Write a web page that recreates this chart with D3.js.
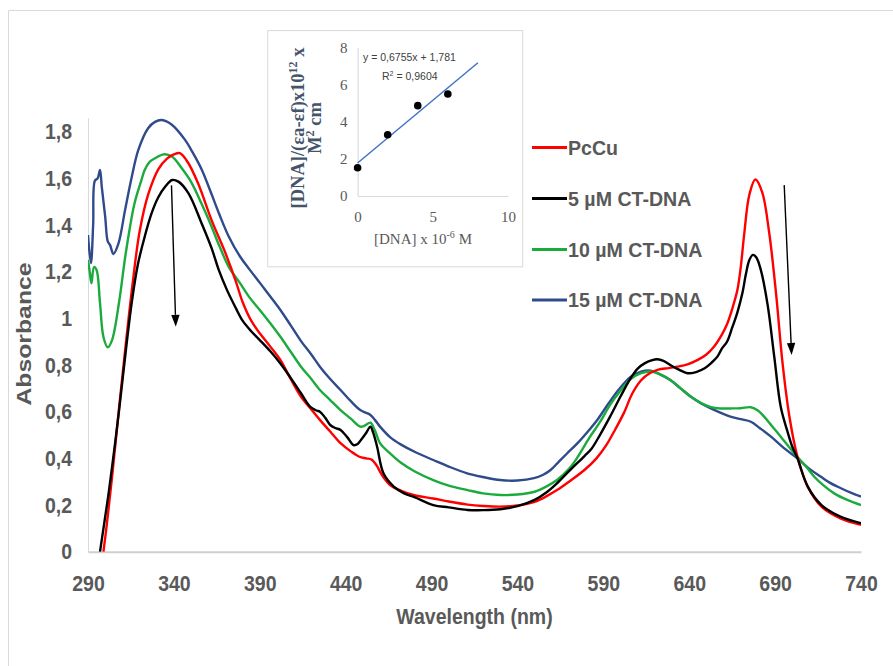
<!DOCTYPE html>
<html>
<head>
<meta charset="utf-8">
<script src="https://cdn.jsdelivr.net/npm/d3@7"></script>
<style>
  body { margin: 0; background: #ffffff; }
  svg { display: block; }
</style>
</head>
<body>
<script>
// ---------------- DATA ----------------
const xTicks = [290, 340, 390, 440, 490, 540, 590, 640, 690, 740];
const yTicks = [0, 0.2, 0.4, 0.6, 0.8, 1.0, 1.2, 1.4, 1.6, 1.8];
const seriesNames = ["PcCu", "5 µM CT-DNA", "10 µM CT-DNA", "15 µM CT-DNA"];

const pcCu = [
[299,0],[301,0.12],[304,0.32],[308,0.61],[312,0.89],[316,1.15],[320,1.37],[325,1.53],[331,1.64],[336,1.685],[340,1.703],[343.5,1.708],[348,1.67],[354,1.58],[362,1.42],[370,1.28],[376,1.16],[380,1.07],[385,0.99],[390,0.936],[396,0.88],[402,0.822],[408,0.74],[414,0.664],[420,0.61],[425,0.565],[431,0.515],[437,0.465],[443,0.43],[448,0.407],[452,0.40],[455,0.395],[458,0.37],[461,0.33],[466,0.285],[472,0.262],[480,0.242],[491,0.228],[500,0.215],[511,0.202],[520,0.196],[530,0.193],[540,0.198],[550,0.214],[557,0.238],[563,0.264],[570,0.30],[579,0.35],[586,0.40],[592,0.46],[597,0.525],[602,0.595],[607,0.68],[612,0.735],[617,0.765],[622,0.78],[628,0.787],[633,0.793],[639,0.803],[645,0.822],[650,0.845],[654.5,0.879],[659,0.93],[662,0.975],[665,1.04],[668,1.12],[670,1.22],[672,1.36],[675,1.53],[678.5,1.595],[682.5,1.54],[686.5,1.37],[690.5,1.11],[694.3,0.81],[698.2,0.585],[703,0.407],[709,0.279],[717,0.193],[728,0.143],[740,0.115]
];
const dna5 = [
[297,0],[300,0.15],[302,0.25],[305,0.42],[308,0.60],[312,0.86],[315.5,1.07],[319,1.23],[323,1.35],[327,1.45],[331,1.52],[335,1.565],[339,1.593],[342.6,1.586],[348.5,1.536],[356,1.41],[362,1.30],[366,1.21],[371,1.12],[376,1.045],[380,0.99],[385,0.945],[390,0.907],[396,0.86],[402,0.807],[408,0.745],[414,0.679],[419.4,0.621],[423,0.605],[425,0.60],[428,0.575],[431,0.543],[434,0.53],[437,0.522],[441,0.49],[444.6,0.457],[447,0.462],[449,0.48],[452,0.51],[454.4,0.536],[456,0.51],[458.3,0.45],[462,0.336],[468,0.279],[474,0.25],[480,0.234],[491,0.20],[500,0.19],[511,0.179],[520,0.178],[530,0.182],[540,0.195],[550,0.222],[557,0.255],[563,0.293],[570,0.345],[579,0.41],[583,0.44],[588,0.50],[594,0.58],[600,0.665],[606,0.745],[610,0.785],[614,0.807],[618,0.82],[621.5,0.825],[625,0.818],[629,0.80],[634,0.78],[639,0.765],[644,0.77],[649,0.786],[653,0.81],[656.4,0.836],[659,0.87],[662,0.90],[665,0.96],[668,1.025],[671,1.11],[673,1.19],[675,1.25],[677,1.272],[679,1.262],[681.7,1.207],[685.6,1.06],[689.5,0.836],[693.3,0.62],[697,0.52],[700,0.45],[703,0.40],[709,0.279],[717,0.20],[728,0.15],[740,0.122]
];
const dna10 = [
[290,1.25],[291,1.2],[292,1.15],[293.5,1.22],[295,1.207],[297,1.065],[299,0.92],[301.5,0.876],[304,0.907],[308,1.065],[312,1.28],[317,1.49],[321,1.59],[323,1.636],[326,1.672],[329,1.686],[334,1.703],[339,1.693],[344.6,1.643],[350,1.585],[356,1.493],[361,1.41],[366.5,1.31],[372,1.22],[378.6,1.15],[384,1.09],[390,1.036],[396,0.98],[402,0.921],[408,0.857],[414,0.793],[420,0.74],[425,0.693],[431,0.65],[437,0.607],[443,0.57],[448.5,0.536],[451,0.54],[454.4,0.553],[457,0.52],[460,0.465],[466,0.42],[472,0.382],[480,0.345],[491,0.307],[500,0.283],[511,0.264],[520,0.25],[530,0.243],[540,0.245],[550,0.257],[557,0.28],[563,0.307],[570,0.355],[575,0.405],[582,0.49],[588,0.555],[594,0.63],[600,0.69],[606,0.74],[612,0.765],[617.6,0.772],[623,0.76],[629,0.736],[635,0.70],[641,0.664],[647,0.637],[652.6,0.62],[658,0.614],[664,0.614],[670,0.615],[675.9,0.619],[680,0.605],[683.6,0.579],[688,0.54],[693.3,0.493],[698,0.45],[703,0.407],[708,0.365],[712.8,0.321],[718,0.285],[724.4,0.25],[732,0.222],[740,0.20]
];
const dna15 = [
[290,1.357],[291.7,1.236],[293,1.40],[294,1.59],[295.6,1.60],[297,1.636],[298,1.565],[300,1.436],[301.5,1.33],[302.8,1.315],[304.8,1.276],[307.7,1.32],[311.6,1.465],[315.5,1.607],[319.3,1.722],[325,1.815],[329,1.842],[333,1.85],[338.8,1.83],[346.5,1.765],[351,1.71],[356.3,1.636],[361,1.55],[366.5,1.445],[372,1.35],[378.6,1.264],[384,1.21],[390.3,1.15],[396,1.095],[402,1.036],[408,0.97],[413.6,0.907],[420,0.845],[425,0.793],[431,0.74],[437,0.693],[443,0.645],[448.5,0.607],[452,0.595],[454.4,0.586],[457,0.565],[460,0.536],[466,0.49],[472,0.46],[481,0.425],[491,0.393],[500,0.365],[510.7,0.336],[520,0.32],[530,0.307],[540,0.305],[549.6,0.315],[555,0.33],[559.3,0.35],[564,0.385],[569,0.422],[575,0.465],[581,0.515],[587,0.57],[593,0.635],[599,0.695],[606,0.75],[612,0.772],[617.6,0.776],[623,0.76],[629,0.736],[635,0.70],[641,0.664],[647,0.635],[652.6,0.614],[658.4,0.595],[664,0.579],[670,0.568],[675.9,0.557],[681,0.53],[687.6,0.493],[695,0.445],[703,0.40],[710,0.355],[716.7,0.321],[722,0.295],[728.3,0.272],[734,0.253],[740,0.236]
];
// arrows: [start, end] in (nm, absorbance)
const arrows = [
  [[338.6, 1.57], [341.1, 0.964]],
  [[695.3, 1.571], [699.6, 0.843]]
];

// inset data
const insetX = [0, 2, 4, 6];
const insetY = [1.52, 3.3, 4.87, 5.5];
const insetXTicks = [0, 5, 10];
const insetYTicks = [0, 2, 4, 6, 8];
const fitSlope = 0.6755, fitIntercept = 1.781, fitR2 = "0,9604";
const fitRange = [0, 8];

// ---------------- CHART ----------------
const W = 893, H = 666;
const svg = d3.select("body").append("svg").attr("width", W).attr("height", H);
const gray = "#595959";
const sans = "'Liberation Sans', Arial, sans-serif";
const serif = "'Liberation Serif', 'Times New Roman', serif";

// outer frame
svg.append("path").attr("d", `M8.5,${H} V10.5 H${W}`).attr("fill", "none").attr("stroke", "#d9d9d9").attr("stroke-width", 1);

const x = d3.scaleLinear().domain([290, 740]).range([88, 861]);
const y = d3.scaleLinear().domain([0, 1.86]).range([551.7, 551.7 - 1.86 * 233.33]);

// axes
const fmt = d => String(+d.toFixed(1)).replace(".", ",");
const yAxis = svg.append("g").attr("transform", `translate(${x(290)},0)`)
  .call(d3.axisLeft(y).tickValues(yTicks).tickFormat(fmt).tickSize(0).tickSizeOuter(0).tickPadding(16));
yAxis.select(".domain").attr("stroke", "#d9d9d9").attr("stroke-width", 1);
yAxis.selectAll("text").attr("font-family", sans).attr("font-weight", "bold").attr("font-size", 19.5)
  .attr("fill", gray).attr("transform", "scale(1,1.16)");

const xAxis = svg.append("g").attr("transform", `translate(0,${y(0)})`)
  .call(d3.axisBottom(x).tickValues(xTicks).tickFormat(d3.format("d")).tickSize(0).tickSizeOuter(0).tickPadding(20));
xAxis.select(".domain").attr("stroke", "#cfcfcf").attr("stroke-width", 2);
xAxis.selectAll("text").attr("font-family", sans).attr("font-weight", "bold").attr("font-size", 19.5)
  .attr("fill", gray).attr("transform", "scale(1,1.16)");

// axis titles
svg.append("text").attr("transform", `translate(${(x(290)+x(740))/2},624) scale(1,1.16)`)
  .attr("text-anchor", "middle").attr("font-family", sans).attr("font-weight", "bold")
  .attr("font-size", 19.5).attr("fill", gray).text("Wavelength (nm)");
svg.append("text").attr("transform", `translate(31,334) rotate(-90) scale(1.18,1)`)
  .attr("text-anchor", "middle").attr("font-family", sans).attr("font-weight", "bold")
  .attr("font-size", 21).attr("fill", gray).text("Absorbance");

// clip
svg.append("clipPath").attr("id", "plotclip").append("rect")
  .attr("x", x(290)).attr("y", y(1.86) - 5).attr("width", x(740) - x(290)).attr("height", y(0) - y(1.86) + 8);

const series = [
  { name: seriesNames[0], data: pcCu, color: "#ff0000" },
  { name: seriesNames[1], data: dna5, color: "#000000" },
  { name: seriesNames[2], data: dna10, color: "#1aab3c" },
  { name: seriesNames[3], data: dna15, color: "#2f4b8c" }
];
const line = d3.line().x(d => x(d[0])).y(d => y(d[1])).curve(d3.curveCatmullRom.alpha(0.5));
const curves = svg.append("g").attr("clip-path", "url(#plotclip)");
// draw in order: blue, green, red, black (black on top)
[3, 2, 0, 1].forEach(i => {
  curves.append("path").attr("d", line(series[i].data)).attr("fill", "none")
    .attr("stroke", series[i].color).attr("stroke-width", 2.4).attr("stroke-linejoin", "round");
});

// arrows
arrows.forEach(a => {
  const x0 = x(a[0][0]), y0 = y(a[0][1]), x1 = x(a[1][0]), y1 = y(a[1][1]);
  const ang = Math.atan2(y1 - y0, x1 - x0);
  const L = 12, hw = 4.2;
  const bx = x1 - L * Math.cos(ang), by = y1 - L * Math.sin(ang);
  svg.append("line").attr("x1", x0).attr("y1", y0).attr("x2", bx).attr("y2", by)
    .attr("stroke", "#000").attr("stroke-width", 1.4);
  const px = -Math.sin(ang), py = Math.cos(ang);
  svg.append("path").attr("d", `M${x1},${y1} L${bx + px*hw},${by + py*hw} L${bx - px*hw},${by - py*hw} Z`).attr("fill", "#000");
});

// legend
const legY = [147.5, 198.5, 249.5, 300];
series.forEach((s, i) => {
  svg.append("line").attr("x1", 532).attr("x2", 567).attr("y1", legY[i]).attr("y2", legY[i])
    .attr("stroke", s.color).attr("stroke-width", 3);
  svg.append("text").attr("x", 568).attr("y", legY[i]).attr("dy", "0.36em")
    .attr("font-family", sans).attr("font-weight", "bold").attr("font-size", 19.6).attr("fill", gray).text(s.name);
});

// ---------------- INSET ----------------
const inset = svg.append("g");
inset.append("rect").attr("x", 267.7).attr("y", 30.6).attr("width", 255).attr("height", 236.2)
  .attr("fill", "#fff").attr("stroke", "#d9d9d9").attr("stroke-width", 1);
const ix = d3.scaleLinear().domain([0, 10]).range([357.6, 508]);
const iy = d3.scaleLinear().domain([0, 8]).range([196, 47.6]);

const iyAxis = inset.append("g").attr("transform", `translate(${ix(0)},0)`)
  .call(d3.axisLeft(iy).tickValues(insetYTicks).tickFormat(d3.format("d")).tickSize(0).tickSizeOuter(0).tickPadding(10));
iyAxis.select(".domain").attr("stroke", "#d6dbe3").attr("stroke-width", 1.2);
iyAxis.selectAll("text").attr("font-family", serif).attr("font-size", 15).attr("fill", gray);

const ixAxis = inset.append("g").attr("transform", `translate(0,${iy(0)})`)
  .call(d3.axisBottom(ix).tickValues(insetXTicks).tickFormat(d3.format("d")).tickSize(0).tickSizeOuter(0).tickPadding(15));
ixAxis.select(".domain").attr("stroke", "#d6dbe3").attr("stroke-width", 1.2);
ixAxis.selectAll("text").attr("font-family", serif).attr("font-size", 15).attr("fill", gray);

// trend line
inset.append("line")
  .attr("x1", ix(fitRange[0])).attr("y1", iy(fitSlope * fitRange[0] + fitIntercept))
  .attr("x2", ix(fitRange[1])).attr("y2", iy(fitSlope * fitRange[1] + fitIntercept))
  .attr("stroke", "#4472c4").attr("stroke-width", 1.5);
// points
inset.selectAll("circle.pt").data(insetX.map((v, i) => [v, insetY[i]])).enter().append("circle")
  .attr("cx", d => ix(d[0])).attr("cy", d => iy(d[1])).attr("r", 3.8).attr("fill", "#000");

// equation
inset.append("text").attr("x", 363).attr("y", 61).attr("font-family", sans).attr("font-size", 10.5)
  .attr("fill", "#404040").text(`y = ${String(fitSlope).replace(".", ",")}x + ${String(fitIntercept).replace(".", ",")}`);
const r2 = inset.append("text").attr("x", 382).attr("y", 79.5).attr("font-family", sans).attr("font-size", 10.5).attr("fill", "#404040");
r2.append("tspan").text("R");
r2.append("tspan").attr("font-size", 7).attr("dy", -4).text("2");
r2.append("tspan").attr("dy", 4).text(` = ${fitR2}`);

// inset x title
const ixt = inset.append("text").attr("x", 423).attr("y", 244).attr("text-anchor", "middle")
  .attr("font-family", serif).attr("font-size", 15).attr("fill", gray);
ixt.append("tspan").text("[DNA] x 10");
ixt.append("tspan").attr("font-size", 10).attr("dy", -6).text("-6");
ixt.append("tspan").attr("dy", 6).text(" M");

// inset y title (two lines, rotated)
const iyt = inset.append("g").attr("transform", "translate(0,128) rotate(-90)");
const l1 = iyt.append("text").attr("x", 0).attr("y", 304).attr("text-anchor", "middle")
  .attr("font-family", serif).attr("font-weight", "bold").attr("font-size", 18.5).attr("fill", "#44546a");
l1.append("tspan").text("[DNA]/(εa-εf)x10");
l1.append("tspan").attr("font-size", 12).attr("dy", -7).text("12");
l1.append("tspan").attr("dy", 7).text(" x");
const l2 = iyt.append("text").attr("x", 0).attr("y", 321).attr("text-anchor", "middle")
  .attr("font-family", serif).attr("font-weight", "bold").attr("font-size", 18.5).attr("fill", "#44546a");
l2.append("tspan").text("M");
l2.append("tspan").attr("font-size", 12).attr("dy", -7).text("2");
l2.append("tspan").attr("dy", 7).text(" cm");
</script>
</body>
</html>
